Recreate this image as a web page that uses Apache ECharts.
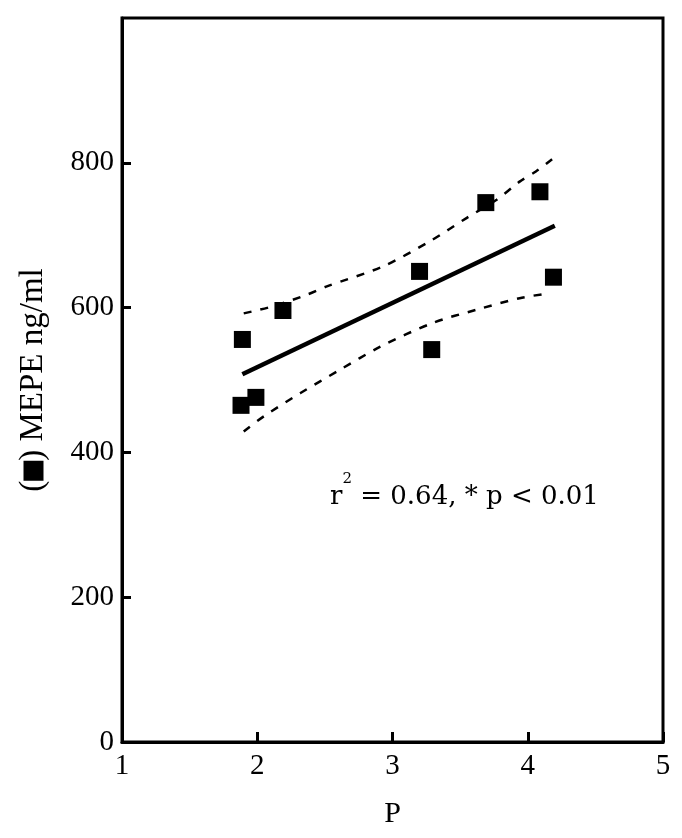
<!DOCTYPE html>
<html>
<head>
<meta charset="utf-8">
<script src="https://cdn.jsdelivr.net/npm/echarts@6/dist/echarts.min.js"></script>
<style>
  html, body { margin: 0; padding: 0; background: #fff; }
  #chart { width: 682px; height: 838px; }
</style>
</head>
<body>
<div id="chart"></div>
<script>
// 散点数据 (P, MEPE)
const pValues = [1.89, 1.88, 1.99, 2.19, 3.2, 3.29, 3.69, 4.09, 4.19];
const mepeValues = [556, 465, 476, 596, 650, 542, 745, 760, 642];

// 回归线两端
const fitX = [1.89, 4.2];
const fitY = [508, 713];

// 置信区间 (虚线)
const upperX = [1.9, 2.12, 2.37, 2.51, 2.93, 3.28, 3.55, 3.77, 3.94, 4.06, 4.18];
const upperY = [592, 602, 618, 629, 657, 692, 724, 749, 774, 788, 805];
const lowerX = [1.9, 2.05, 2.32, 2.61, 2.91, 3.3, 3.62, 3.94, 4.13];
const lowerY = [429, 450, 482, 514, 546, 579, 597, 613, 619];

const yTicks = [0, 200, 400, 600, 800];

const zip = (xs, ys) => xs.map((x, i) => [x, ys[i]]);
const font = "'Liberation Serif', 'Times New Roman', serif";
const noteFont = "'DejaVu Serif', serif";

const chart = echarts.init(document.getElementById("chart"));
const option = {
  animation: false,
  grid: {
    left: 122, right: 19, top: 18, bottom: 96,
    show: true, borderColor: "#000", borderWidth: 3
  },
  xAxis: {
    type: "value",
    min: 1, max: 5, interval: 1,
    name: "P",
    nameLocation: "middle",
    nameGap: 57,
    nameTextStyle: { fontFamily: font, fontSize: 30, color: "#000" },
    axisLine: { lineStyle: { color: "#000", width: 3 } },
    axisTick: { inside: true, length: 10, lineStyle: { color: "#000", width: 3 } },
    axisLabel: { fontFamily: font, fontSize: 29, color: "#000", margin: 10 },
    splitLine: { show: false }
  },
  yAxis: {
    type: "value",
    min: 0, max: 1000, interval: 200,
    name: "({sq|}) MEPE ng/ml",
    nameLocation: "middle",
    nameGap: 72,
    nameTextStyle: {
      fontFamily: font, fontSize: 33, color: "#000",
      rich: {
        sq: { width: 20, height: 20, backgroundColor: "#000" }
      }
    },
    axisLine: { lineStyle: { color: "#000", width: 3 } },
    axisTick: { inside: true, length: 9, customValues: yTicks, lineStyle: { color: "#000", width: 3 } },
    axisLabel: { fontFamily: font, fontSize: 29, color: "#000", margin: 8, customValues: yTicks },
    splitLine: { show: false }
  },
  graphic: [
    {
      type: "text",
      left: 330,
      top: 472,
      style: {
        text: "{t|r}{sup|2}{t| = 0.64, * p < 0.01}",
        rich: {
          t: { fontFamily: noteFont, fontSize: 26, fill: "#000", verticalAlign: "bottom", lineHeight: 38 },
          sup: { fontFamily: noteFont, fontSize: 15, fill: "#000", verticalAlign: "top", lineHeight: 38, padding: [0, 0, 9, 0] }
        }
      }
    }
  ],
  series: [
    {
      name: "upper",
      type: "line",
      data: zip(upperX, upperY),
      smooth: 0.3,
      showSymbol: false,
      lineStyle: { color: "#000", width: 2.5, type: [8, 9] },
      z: 2
    },
    {
      name: "lower",
      type: "line",
      data: zip(lowerX, lowerY),
      smooth: 0.3,
      showSymbol: false,
      lineStyle: { color: "#000", width: 2.5, type: [8, 9] },
      z: 2
    },
    {
      name: "fit",
      type: "line",
      data: zip(fitX, fitY),
      showSymbol: false,
      lineStyle: { color: "#000", width: 4.5 },
      z: 3
    },
    {
      name: "MEPE",
      type: "scatter",
      data: zip(pValues, mepeValues),
      symbol: "rect",
      symbolSize: 17,
      itemStyle: { color: "#000", opacity: 1 },
      z: 4
    }
  ]
};
chart.setOption(option);
</script>
</body>
</html>
